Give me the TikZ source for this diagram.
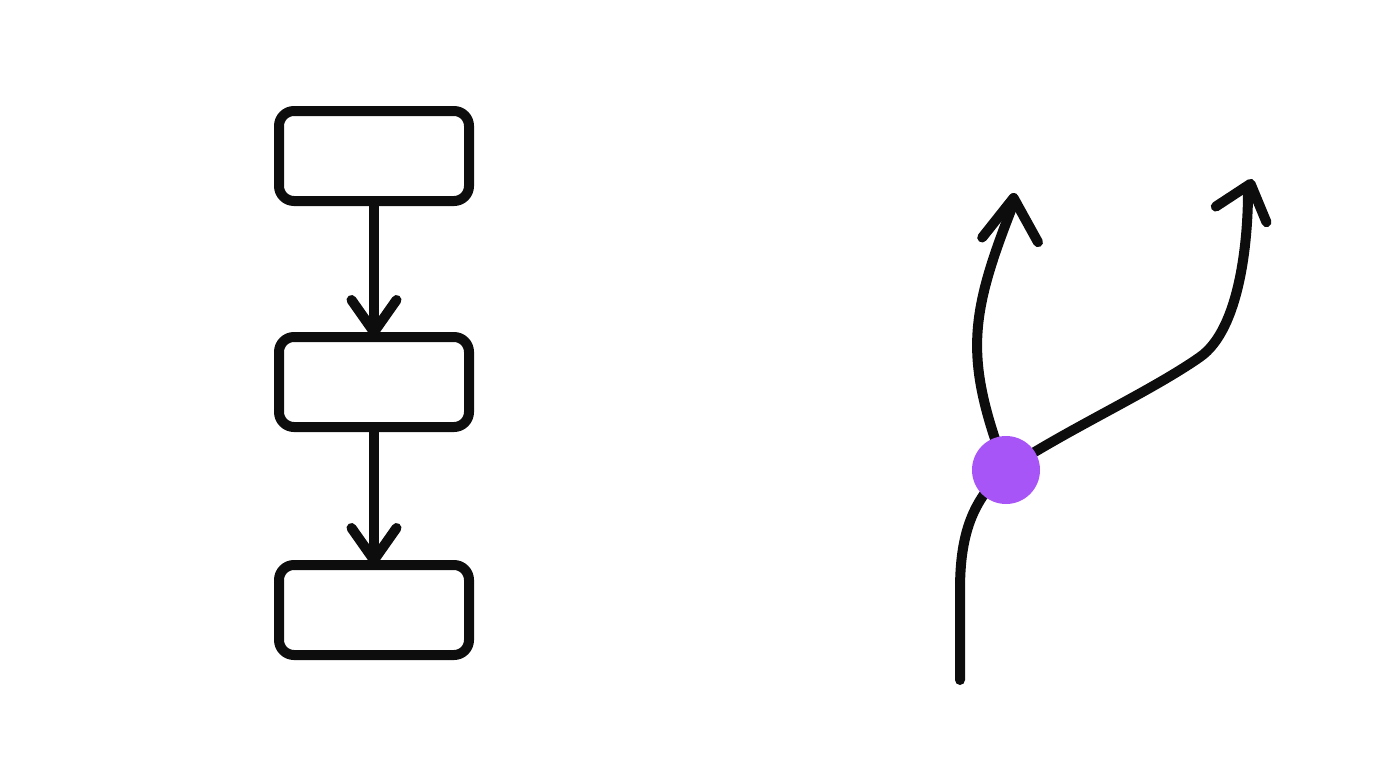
\documentclass[tikz,border=0pt]{standalone}
\usepackage{tikz}
\usetikzlibrary{arrows.meta,positioning}

\definecolor{ink}{RGB}{13,13,13}
\definecolor{dotpurple}{RGB}{168,85,247}

\begin{document}
\begin{tikzpicture}[
    x=1pt, y=-1pt,
    box/.style={draw=ink, line width=10pt, rounded corners=15pt,
      minimum width=190pt, minimum height=90pt, inner sep=0pt},
    arrow/.style={draw=ink, line width=10pt, line cap=round, shorten >=-5pt,
      -{Straight Barb[length=32pt, width=45pt, round]}},
    flow/.style={draw=ink, line width=10pt, line cap=round},
    dot/.style={circle, fill=dotpurple, minimum size=68pt, inner sep=0pt}
  ]
  \useasboundingbox (0,0) rectangle (1376,768);

  % left: three steps in a row
  \node[box] (first) at (374,156) {};
  \node[box, below=126pt of first] (second) {};
  \node[box, below=128pt of second] (third) {};

  \draw[arrow] (first) -- (second);
  \draw[arrow] (second) -- (third);

  % right: one path that splits in two
  \coordinate (start) at (960,680);
  \coordinate (split) at (1006,470);
  \coordinate (upleft) at (1014,193);
  \coordinate (kink) at (1200,357);
  \coordinate (upright) at (1252,179);

  \draw[flow] (start) -- (960,590) .. controls (960,535) and (972,500) .. (split);
  \draw[flow, -{Straight Barb[length=42pt, width=56pt, round]}]
    (split) .. controls (964,358) and (969,317) .. (1013,205) -- (upleft);
  \draw[flow, -{Straight Barb[length=32pt, width=53pt, round]}]
    (split) .. controls (1066,430) and (1150,392) .. (kink)
    .. controls (1240,329) and (1248,240) .. (1248,192) -- (upright);

  \node[dot] (splitdot) at (split) {};
\end{tikzpicture}
\end{document}
